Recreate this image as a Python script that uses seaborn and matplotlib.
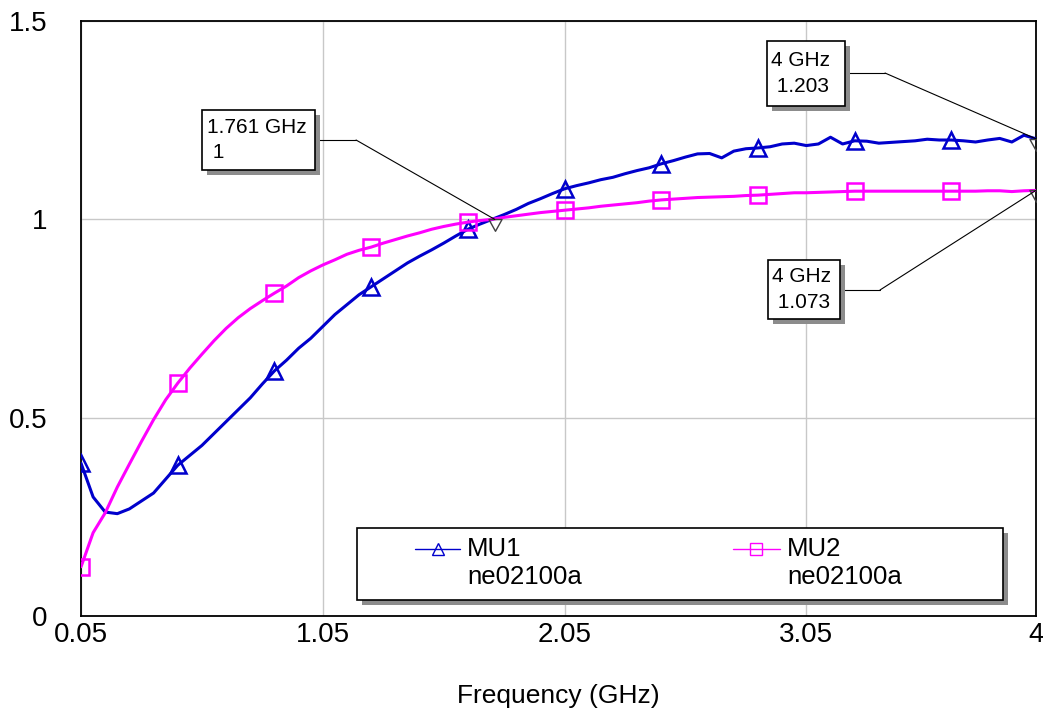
"""
MU1 / MU2 stability factor vs frequency (ne02100a)
"""

import matplotlib
matplotlib.use('Agg')
import matplotlib.pyplot as plt
from matplotlib.patches import Rectangle
from matplotlib.path import Path
import seaborn as sns
import pandas as pd

# ---- data ----
freq = [0.05, 0.10, 0.15, 0.20, 0.25, 0.30, 0.35, 0.40, 0.45, 0.50,
        0.55, 0.60, 0.65, 0.70, 0.75, 0.80, 0.85, 0.90, 0.95, 1.00,
        1.05, 1.10, 1.15, 1.20, 1.25, 1.30, 1.35, 1.40, 1.45, 1.50,
        1.55, 1.60, 1.65, 1.70, 1.75, 1.80, 1.85, 1.90, 1.95, 2.00,
        2.05, 2.10, 2.15, 2.20, 2.25, 2.30, 2.35, 2.40, 2.45, 2.50,
        2.55, 2.60, 2.65, 2.70, 2.75, 2.80, 2.85, 2.90, 2.95, 3.00,
        3.05, 3.10, 3.15, 3.20, 3.25, 3.30, 3.35, 3.40, 3.45, 3.50,
        3.55, 3.60, 3.65, 3.70, 3.75, 3.80, 3.85, 3.90, 3.95, 4.00]

mu1 = [0.385, 0.300, 0.262, 0.258, 0.270, 0.290, 0.310, 0.345, 0.380, 0.405,
       0.430, 0.460, 0.490, 0.520, 0.550, 0.585, 0.618, 0.645, 0.675, 0.700,
       0.730, 0.760, 0.785, 0.810, 0.830, 0.850, 0.870, 0.890, 0.907, 0.923,
       0.940, 0.958, 0.975, 0.988, 1.000, 1.012, 1.025, 1.040, 1.052, 1.065,
       1.077, 1.085, 1.092, 1.100, 1.106, 1.115, 1.123, 1.130, 1.140, 1.148,
       1.157, 1.165, 1.166, 1.155, 1.172, 1.178, 1.180, 1.183, 1.190, 1.192,
       1.186, 1.190, 1.207, 1.190, 1.198, 1.197, 1.192, 1.194, 1.196, 1.198,
       1.202, 1.200, 1.200, 1.198, 1.195, 1.200, 1.204, 1.195, 1.212, 1.203]

mu2 = [0.124, 0.210, 0.260, 0.325, 0.383, 0.440, 0.495, 0.545, 0.587, 0.625,
       0.660, 0.694, 0.725, 0.752, 0.775, 0.795, 0.814, 0.832, 0.853, 0.870,
       0.885, 0.898, 0.912, 0.922, 0.930, 0.940, 0.949, 0.958, 0.966, 0.975,
       0.982, 0.988, 0.993, 0.997, 1.000, 1.005, 1.009, 1.013, 1.017, 1.020,
       1.023, 1.026, 1.029, 1.033, 1.036, 1.039, 1.042, 1.046, 1.049, 1.051,
       1.053, 1.055, 1.056, 1.057, 1.058, 1.060, 1.061, 1.063, 1.065, 1.067,
       1.067, 1.068, 1.069, 1.070, 1.071, 1.071, 1.071, 1.071, 1.071, 1.071,
       1.071, 1.071, 1.071, 1.071, 1.071, 1.072, 1.072, 1.070, 1.072, 1.073]

series_names = ['MU1', 'MU2']
source_name = 'ne02100a'

# marker readouts
marker_freq = [1.761, 4.0, 4.0]
marker_val = [1.0, 1.203, 1.073]

x_ticks = [0.05, 1.05, 2.05, 3.05, 4.0]
x_tick_labels = ['0.05', '1.05', '2.05', '3.05', '4']
y_ticks = [0, 0.5, 1, 1.5]
y_tick_labels = ['0', '0.5', '1', '1.5']

BLUE = '#0000CC'
MAGENTA = '#FF00FF'
SHADOW = '#8c8c8c'

sns.set_style('white')
plt.rcParams['font.family'] = ['Liberation Sans', 'DejaVu Sans']
plt.rcParams['text.color'] = 'black'

df = pd.DataFrame({'Frequency': freq, 'MU1': mu1, 'MU2': mu2})

fig = plt.figure(figsize=(10.43, 7.10), dpi=100)
ax = fig.add_axes([0.0777, 0.1324, 0.9156, 0.8380])

sns.lineplot(data=df, x='Frequency', y='MU1', ax=ax, color=BLUE, lw=2.2,
             marker='^', markevery=8, ms=12, mfc='none', mec=BLUE, mew=1.8,
             estimator=None, sort=False, legend=False, zorder=3)
sns.lineplot(data=df, x='Frequency', y='MU2', ax=ax, color=MAGENTA, lw=2.2,
             marker='s', markevery=8, ms=11, mfc='none', mec=MAGENTA, mew=1.8,
             estimator=None, sort=False, legend=False, zorder=3)

ax.set_xlim(0.05, 4.0)
ax.set_ylim(0, 1.5)
ax.set_xticks(x_ticks)
ax.set_xticklabels(x_tick_labels)
ax.set_yticks(y_ticks)
ax.set_yticklabels(y_tick_labels)
ax.tick_params(axis='both', length=0, labelsize=20, colors='black')
ax.tick_params(axis='x', pad=4)
ax.tick_params(axis='y', pad=24)
ax.grid(True, color='#c8c8c8', lw=1)
for sp in ax.spines.values():
    sp.set_color('black')
    sp.set_linewidth(1.3)
ax.set_xlabel('Frequency (GHz)', fontsize=19, labelpad=26, color='black')
ax.set_ylabel('')

# hanging down-triangle marker (top edge on the data point)
hang_tri = Path([(-1, 0), (1, 0), (0, -1.8), (-1, 0)],
                [Path.MOVETO, Path.LINETO, Path.LINETO, Path.CLOSEPOLY])
ax.plot(marker_freq, marker_val, ls='none', marker=hang_tri, ms=17,
        mfc='none', mec='#404040', mew=1, zorder=4)

# readout boxes: (x0, y0, x1, y1) in axes fraction, text anchor, leader elbow
boxes = [
    dict(rect=(0.1267, 0.7496, 0.2450, 0.8504), text=(0.1319, 0.800),
         elbow=((0.2450, 0.800), (0.2880, 0.800))),
    dict(rect=(0.7183, 0.8571, 0.8000, 0.9664), text=(0.7225, 0.912),
         elbow=((0.8000, 0.9126), (0.8419, 0.9126))),
    dict(rect=(0.7194, 0.4992, 0.7948, 0.5983), text=(0.7236, 0.549),
         elbow=((0.7948, 0.5479), (0.8366, 0.5479))),
]

dx, dy = 5 / 955, 5 / 595
for f, v, b in zip(marker_freq, marker_val, boxes):
    x0, y0, x1, y1 = b['rect']
    ax.add_patch(Rectangle((x0 + dx, y0 - dy), x1 - x0, y1 - y0,
                           transform=ax.transAxes, facecolor=SHADOW,
                           edgecolor='none', zorder=6))
    ax.add_patch(Rectangle((x0, y0), x1 - x0, y1 - y0,
                           transform=ax.transAxes, facecolor='white',
                           edgecolor='black', lw=1.2, zorder=7))
    ax.text(b['text'][0], b['text'][1], f'{f:g} GHz\n {v:g}',
            transform=ax.transAxes, fontsize=15, ha='left', va='center',
            linespacing=1.45, color='black', zorder=8)
    (ax_, ay_), (bx_, by_) = b['elbow']
    ax.plot([ax_, bx_], [ay_, by_], transform=ax.transAxes, color='black',
            lw=0.8, zorder=5)
    ax.annotate('', xy=(f, v), xycoords='data', xytext=(bx_, by_),
                textcoords='axes fraction',
                arrowprops=dict(arrowstyle='-', color='black', lw=0.8,
                                shrinkA=0, shrinkB=0), zorder=5)

# legend box drawn by hand (two-line entries, handle on first line)
lx0, ly0, lx1, ly1 = 0.289, 0.0269, 0.9654, 0.1479
ax.add_patch(Rectangle((lx0 + dx, ly0 - dy), lx1 - lx0, ly1 - ly0,
                       transform=ax.transAxes, facecolor=SHADOW,
                       edgecolor='none', zorder=6))
ax.add_patch(Rectangle((lx0, ly0), lx1 - lx0, ly1 - ly0,
                       transform=ax.transAxes, facecolor='white',
                       edgecolor='black', lw=1.2, zorder=7))

legend_layout = [
    (series_names[0], BLUE, '^', 0.3497, 0.3969, 0.4042),
    (series_names[1], MAGENTA, 's', 0.6827, 0.7319, 0.7393),
]
for name, col, mk, h0, h1, tx in legend_layout:
    ax.plot([h0, h1], [0.1126, 0.1126], transform=ax.transAxes, color=col,
            lw=1, zorder=8, clip_on=False)
    ax.plot([(h0 + h1) / 2], [0.1126], transform=ax.transAxes, ls='none',
            marker=mk, ms=9, mfc='none', mec=col, mew=1, zorder=8,
            clip_on=False)
    ax.text(tx, 0.1126, name, transform=ax.transAxes, fontsize=18.5,
            ha='left', va='center', color='black', zorder=8)
    ax.text(tx, 0.0655, source_name, transform=ax.transAxes, fontsize=18.5,
            ha='left', va='center', color='black', zorder=8)

fig.savefig('out.png', dpi=100)
plt.close(fig)
